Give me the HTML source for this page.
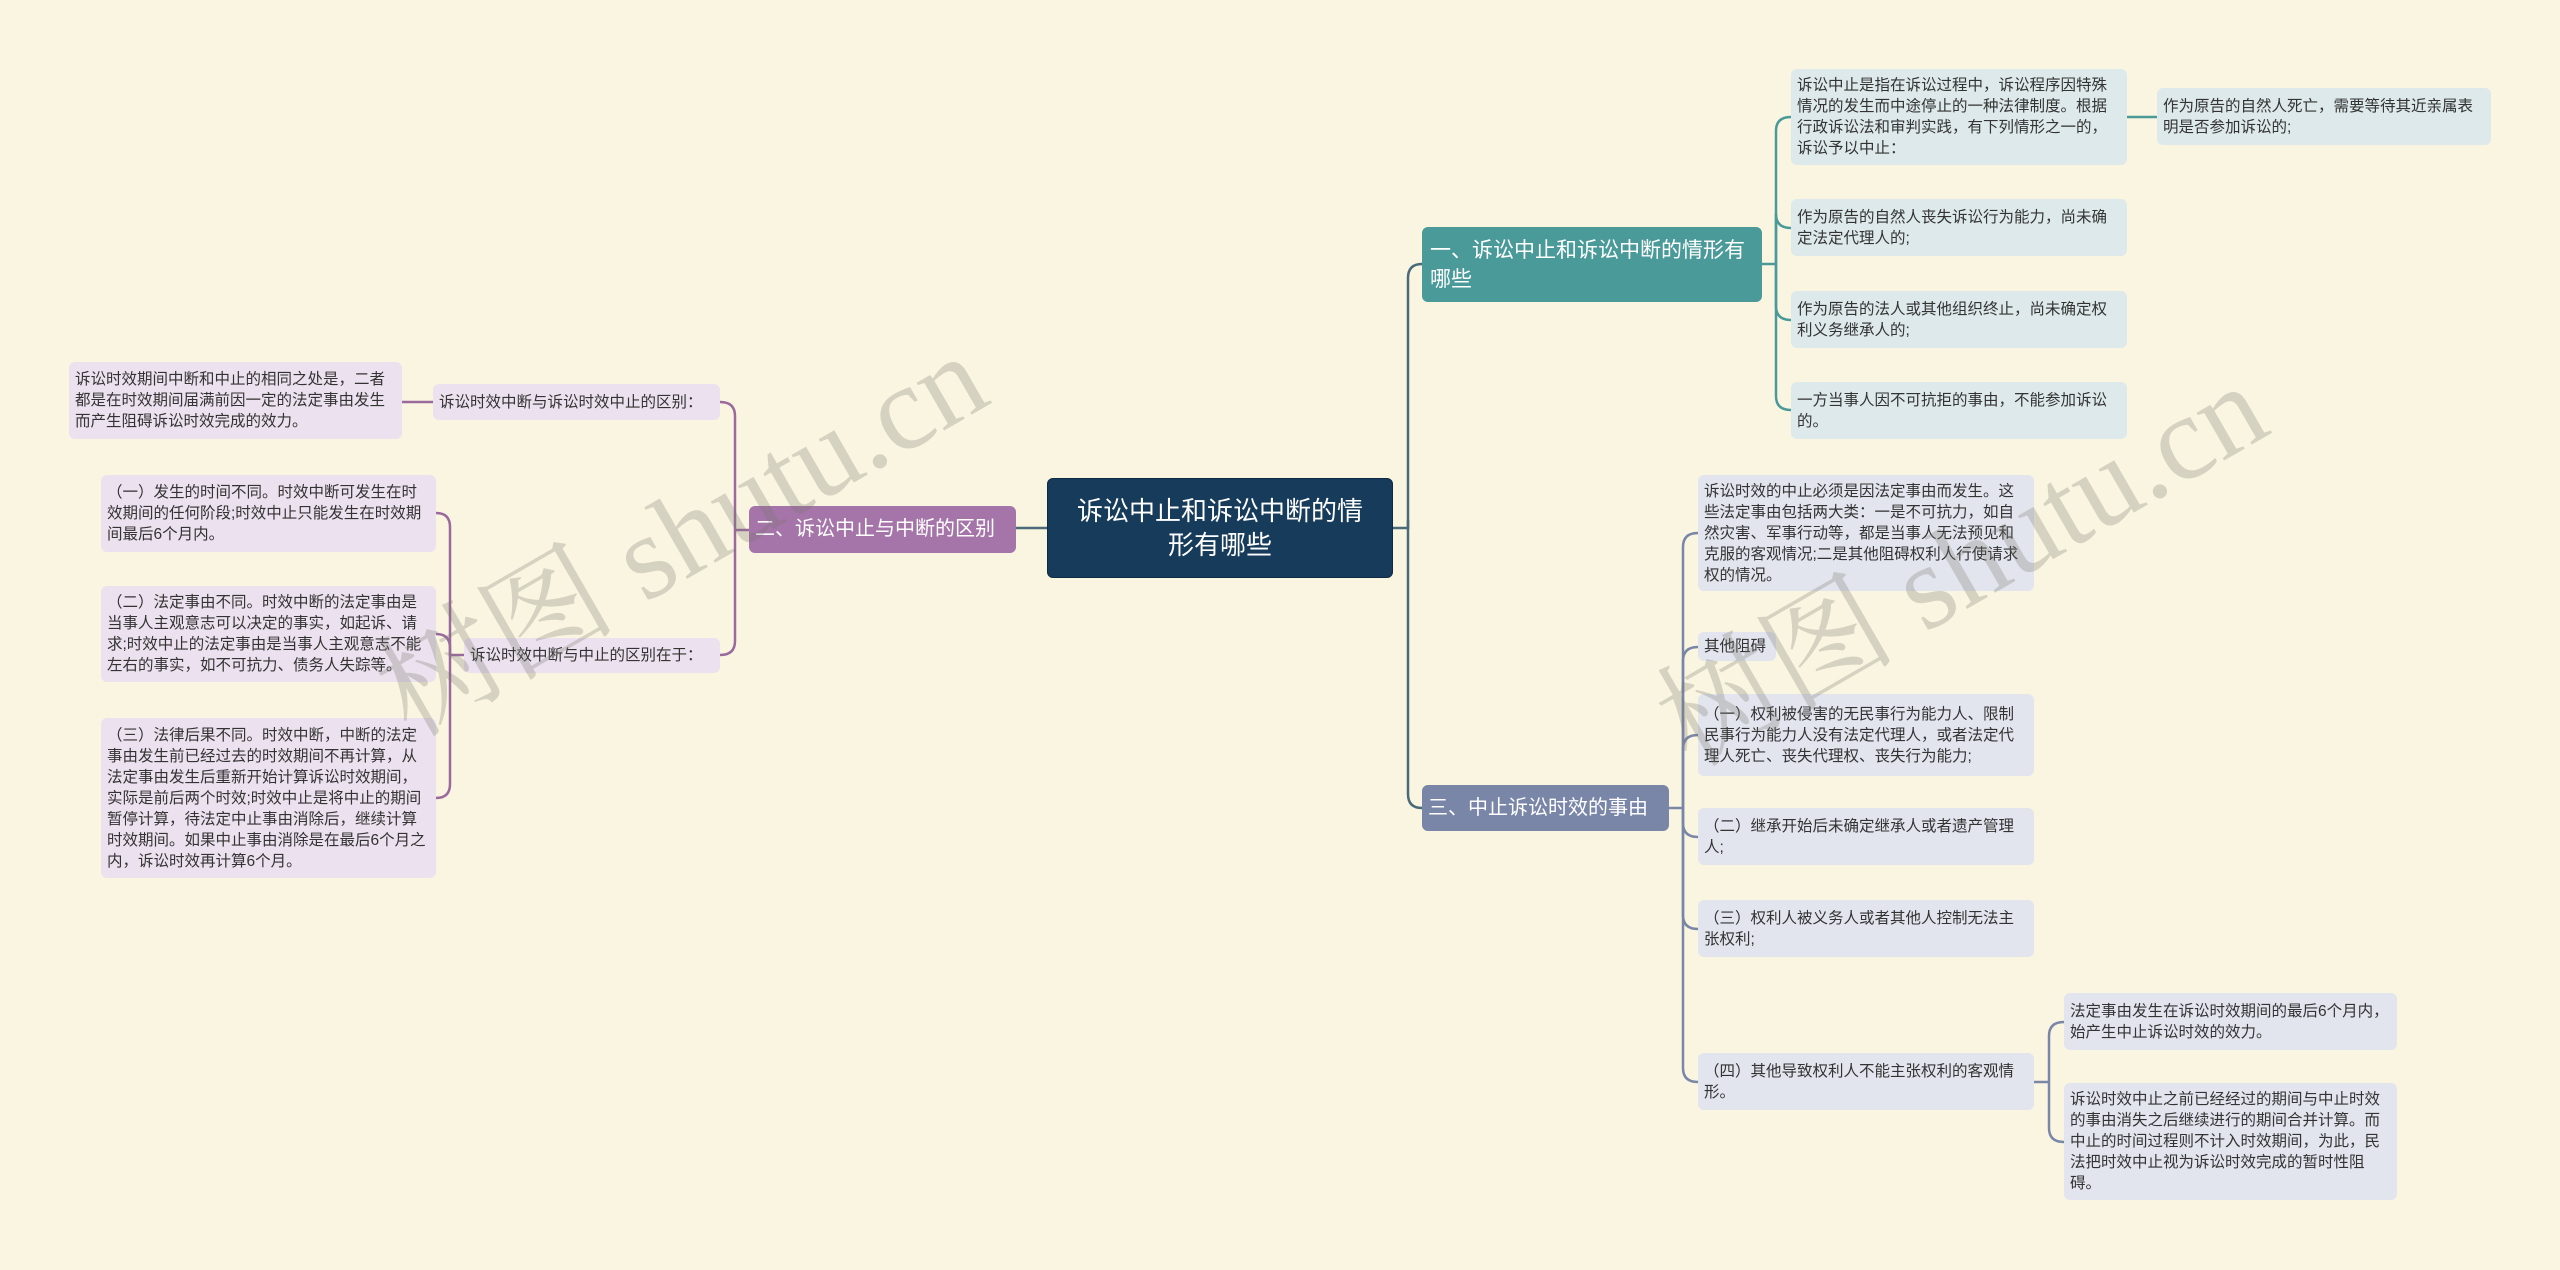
<!DOCTYPE html>
<html><head><meta charset="utf-8"><style>
html,body{margin:0;padding:0;}
body{width:2560px;height:1270px;background:#faf5e1;position:relative;overflow:hidden;font-family:"Liberation Sans","Noto Sans CJK SC",sans-serif;}
.n{position:absolute;box-sizing:border-box;border-radius:6px;font-size:15.5px;line-height:21px;color:#333;padding:4px 6px;display:flex;align-items:center;}
.t{background:#dde9ea;}
.s{background:#e2e5ee;}
.p{background:#ece1ee;}
.nw{white-space:nowrap;}
.wm{position:absolute;font-family:"Liberation Serif","Noto Serif CJK SC",serif;font-size:120px;color:rgba(120,120,110,0.28);transform:rotate(-30deg);white-space:nowrap;}
</style></head><body>
<svg width="2560" height="1270" style="position:absolute;left:0;top:0" fill="none" stroke-width="2.5">
<g stroke="#4a6a7a">
<path d="M1393 528 H1408 V278 Q1408 264 1422 264"/>
<path d="M1408 520 V794 Q1408 808 1422 808"/>
<path d="M1047 528 H1016"/>
</g>
<g stroke="#4a9a9a">
<path d="M1762 264 H1776"/>
<path d="M1776 264 V131 Q1776 117 1791 117"/>
<path d="M1776 264 V214 Q1776 228 1791 228"/>
<path d="M1776 264 V306 Q1776 320 1791 320"/>
<path d="M1776 264 V396 Q1776 410 1791 410"/>
<path d="M2127 117 H2157"/>
</g>
<g stroke="#7a86a8">
<path d="M1669 808 H1683"/>
<path d="M1683 808 V547 Q1683 533 1698 533"/>
<path d="M1683 808 V661 Q1683 647 1698 647"/>
<path d="M1683 808 V749 Q1683 735 1698 735"/>
<path d="M1683 808 V823 Q1683 837 1698 837"/>
<path d="M1683 808 V915 Q1683 929 1698 929"/>
<path d="M1683 808 V1068 Q1683 1082 1698 1082"/>
<path d="M2034 1082 H2049"/>
<path d="M2049 1082 V1036 Q2049 1022 2064 1022"/>
<path d="M2049 1082 V1128 Q2049 1142 2064 1142"/>
</g>
<g stroke="#9a6a9e">
<path d="M749 530 H735"/>
<path d="M735 530 V416 Q735 402 720 402"/>
<path d="M735 530 V641 Q735 655 720 655"/>
<path d="M433 402 H402"/>
<path d="M464 655 H450"/>
<path d="M450 655 V527 Q450 513 436 513"/>
<path d="M450 655 V648 Q450 634 436 634"/>
<path d="M450 655 V784 Q450 798 436 798"/>
</g>
</svg>

<div class="n" style="left:1047px;top:478px;width:346px;height:100px;background:#173b5a;color:#fff;font-size:26px;line-height:34px;padding:0 18px;justify-content:center;text-align:center;border:1px solid #0e2a44;">诉讼中止和诉讼中断的情形有哪些</div>

<div class="n" style="left:1422px;top:227px;width:340px;height:75px;background:#4a9a9a;color:#fff;font-size:21px;line-height:29px;padding:0 8px;">一、诉讼中止和诉讼中断的情形有哪些</div>
<div class="n t" style="left:1791px;top:69px;width:336px;height:96px;">诉讼中止是指在诉讼过程中，诉讼程序因特殊情况的发生而中途停止的一种法律制度。根据行政诉讼法和审判实践，有下列情形之一的，诉讼予以中止：</div>
<div class="n t" style="left:2157px;top:88px;width:334px;height:57px;">作为原告的自然人死亡，需要等待其近亲属表明是否参加诉讼的;</div>
<div class="n t" style="left:1791px;top:199px;width:336px;height:57px;">作为原告的自然人丧失诉讼行为能力，尚未确定法定代理人的;</div>
<div class="n t" style="left:1791px;top:291px;width:336px;height:57px;">作为原告的法人或其他组织终止，尚未确定权利义务继承人的;</div>
<div class="n t" style="left:1791px;top:382px;width:336px;height:57px;">一方当事人因不可抗拒的事由，不能参加诉讼的。</div>

<div class="n nw" style="left:1422px;top:785px;width:247px;height:46px;background:#7a86a8;color:#fff;font-size:20px;">三、中止诉讼时效的事由</div>
<div class="n s" style="left:1698px;top:475px;width:336px;height:116px;">诉讼时效的中止必须是因法定事由而发生。这些法定事由包括两大类：一是不可抗力，如自然灾害、军事行动等，都是当事人无法预见和克服的客观情况;二是其他阻碍权利人行使请求权的情况。</div>
<div class="n s nw" style="left:1698px;top:632px;width:78px;height:29px;">其他阻碍</div>
<div class="n s" style="left:1698px;top:694px;width:336px;height:82px;">（一）权利被侵害的无民事行为能力人、限制民事行为能力人没有法定代理人，或者法定代理人死亡、丧失代理权、丧失行为能力;</div>
<div class="n s" style="left:1698px;top:808px;width:336px;height:57px;">（二）继承开始后未确定继承人或者遗产管理人;</div>
<div class="n s" style="left:1698px;top:900px;width:336px;height:57px;">（三）权利人被义务人或者其他人控制无法主张权利;</div>
<div class="n s" style="left:1698px;top:1053px;width:336px;height:57px;">（四）其他导致权利人不能主张权利的客观情形。</div>
<div class="n s" style="left:2064px;top:993px;width:333px;height:57px;">法定事由发生在诉讼时效期间的最后6个月内，始产生中止诉讼时效的效力。</div>
<div class="n s" style="left:2064px;top:1083px;width:333px;height:117px;">诉讼时效中止之前已经经过的期间与中止时效的事由消失之后继续进行的期间合并计算。而中止的时间过程则不计入时效期间，为此，民法把时效中止视为诉讼时效完成的暂时性阻碍。</div>

<div class="n nw" style="left:749px;top:506px;width:267px;height:47px;background:#a574a8;color:#fff;font-size:20px;">二、诉讼中止与中断的区别</div>
<div class="n p nw" style="left:433px;top:384px;width:287px;height:36px;">诉讼时效中断与诉讼时效中止的区别：</div>
<div class="n p" style="left:69px;top:362px;width:333px;height:77px;">诉讼时效期间中断和中止的相同之处是，二者都是在时效期间届满前因一定的法定事由发生而产生阻碍诉讼时效完成的效力。</div>
<div class="n p nw" style="left:464px;top:638px;width:256px;height:35px;">诉讼时效中断与中止的区别在于：</div>
<div class="n p" style="left:101px;top:475px;width:335px;height:77px;">（一）发生的时间不同。时效中断可发生在时效期间的任何阶段;时效中止只能发生在时效期间最后6个月内。</div>
<div class="n p" style="left:101px;top:586px;width:335px;height:96px;">（二）法定事由不同。时效中断的法定事由是当事人主观意志可以决定的事实，如起诉、请求;时效中止的法定事由是当事人主观意志不能左右的事实，如不可抗力、债务人失踪等。</div>
<div class="n p" style="left:101px;top:718px;width:335px;height:160px;">（三）法律后果不同。时效中断，中断的法定事由发生前已经过去的时效期间不再计算，从法定事由发生后重新开始计算诉讼时效期间，实际是前后两个时效;时效中止是将中止的期间暂停计算，待法定中止事由消除后，继续计算时效期间。如果中止事由消除是在最后6个月之内，诉讼时效再计算6个月。</div>

<div class="wm" style="left:340px;top:440px;">树图 shutu.cn</div>
<div class="wm" style="left:1620px;top:470px;">树图 shutu.cn</div>
</body></html>
